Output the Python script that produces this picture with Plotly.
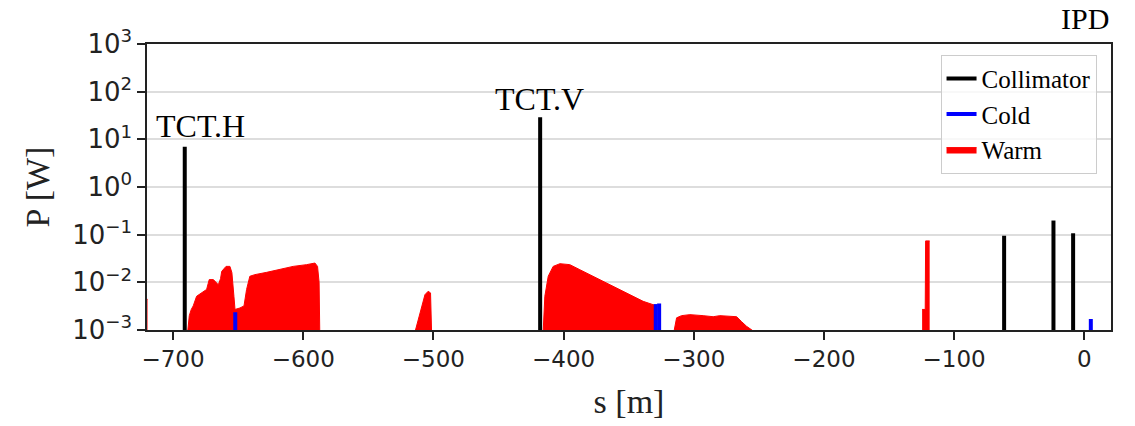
import numpy as np
import plotly.graph_objects as go

# ---------------- data ----------------
coll_s = [-691.0, -418.0, -61.6, -23.7, -8.6]
coll_p = [7.0, 29.0, 0.095, 0.198, 0.107]

cold_s = [-652.2, -329.2, -326.6, 5.0]
cold_p = [0.00236, 0.0035, 0.0036, 0.0017]

warm_s = [
    -722.0, -719.6, None,
    -688.8, -687.5, -686.0, -684.5, -681.9, -678.0, -674.2, -673.0, -672.2, -669.0,
    -666.5, -665.2, -663.5, -662.6, -659.3, -656.3, -654.8, -654.2, -653.2, -652.4,
    -648.6, -645.5, -644.5, -643.5, -641.0, -637.1, -628.1, -617.9, -607.7, -597.4,
    -591.0, -589.0, -587.8, -587.3, None,
    -514.2, -511.7, -509.0, -506.5, -504.0, -502.2, -501.4, None,
    -415.7, -414.4, -411.8, -408.0, -402.8, -395.2, -387.5, -377.3, -364.4, -351.6,
    -338.9, -331.2, -330.5, None,
    -315.3, -313.2, -309.4, -303.0, -292.8, -285.1, -280.0, -267.1, -263.3, -259.5,
    -253.0, None,
    -124.6, -122.2, -121.9, -118.8,
]
warm_p = [
    0.0044, 0.0044, None,
    0.0009, 0.002, 0.0027, 0.0032, 0.0051, 0.006, 0.0071, 0.0095, 0.0114, 0.0114,
    0.0095, 0.0089, 0.012, 0.017, 0.0216, 0.0216, 0.016, 0.0114, 0.005, 0.0027,
    0.0029, 0.0032, 0.0045, 0.0071, 0.0134, 0.0145, 0.0162, 0.019, 0.0216, 0.0235,
    0.0254, 0.0216, 0.01, 0.0009, None,
    0.0009, 0.0017, 0.0032, 0.0055, 0.0065, 0.006, 0.0009, None,
    0.0009, 0.0051, 0.0134, 0.0216, 0.0246, 0.0235, 0.0184, 0.0134, 0.009, 0.006,
    0.004, 0.0034, 0.0034, None,
    0.0009, 0.0018, 0.002, 0.0021, 0.002, 0.0019, 0.002, 0.0019, 0.0015, 0.0012,
    0.0009, None,
    0.0027, 0.0027, 0.074, 0.074,
]

x_ticks = [-700, -600, -500, -400, -300, -200, -100, 0]
x_range = [-720, 20.5]
y_exponents = [-3, -2, -1, 0, 1, 2, 3]

# ---------------- helpers ----------------
Y_BOTTOM = 10.0 ** min(y_exponents)


def stems(s_vals, p_vals):
    xs, ys = [], []
    for s, p in zip(s_vals, p_vals):
        xs += [s, s, None]
        ys += [Y_BOTTOM, p, None]
    return xs, ys


def segments(xs, ys):
    segs, cx, cy = [], [], []
    for x, y in zip(xs, ys):
        if x is None:
            if cx:
                segs.append((cx, cy))
            cx, cy = [], []
        else:
            cx.append(x)
            cy.append(y)
    if cx:
        segs.append((cx, cy))
    return segs


SERIF = "Liberation Serif"
SANS = "DejaVu Sans"

fig = go.Figure()

# Warm drawn first (underneath), legend order reversed later
for i, (sx, sy) in enumerate(segments(warm_s, warm_p)):
    fig.add_trace(go.Scatter(x=sx, y=sy, mode="lines", name="Warm",
                             legendgroup="warm", showlegend=(i == 0),
                             fill="tozeroy", fillcolor="#ff0000",
                             line=dict(color="#ff0000", width=1)))

bx, by = stems(cold_s, cold_p)
fig.add_trace(go.Scatter(x=bx, y=by, mode="lines", name="Cold",
                         line=dict(color="#0000ff", width=4)))
cx, cy = stems(coll_s, coll_p)
fig.add_trace(go.Scatter(x=cx, y=cy, mode="lines", name="Collimator",
                         line=dict(color="black", width=4)))

# annotations
fig.add_annotation(text="TCT.H", x=-715, y=1.28, xref="x", yref="y",
                   xanchor="left", yanchor="middle", showarrow=False,
                   font=dict(family=SERIF, size=32, color="black"))
fig.add_annotation(text="TCT.V", x=-454, y=1.85, xref="x", yref="y",
                   xanchor="left", yanchor="middle", showarrow=False,
                   font=dict(family=SERIF, size=32, color="black"))
fig.add_annotation(text="IPD", x=1.0, y=1.089, xref="paper", yref="paper",
                   xanchor="right", yanchor="middle", showarrow=False,
                   font=dict(family=SERIF, size=30, color="black"))

axis_common = dict(showline=True, mirror=True, linecolor="#222222", linewidth=1.5,
                   ticks="outside", ticklen=8, tickwidth=1.5, tickcolor="#222222",
                   zeroline=False)

y_tickvals = [10.0 ** e for e in y_exponents]
y_ticktext = ["10<sup>%s</sup>" % (str(e).replace("-", "\u2212")) for e in y_exponents]

fig.update_layout(
    width=1135, height=426,
    margin=dict(l=147, r=24, t=44, b=96),
    paper_bgcolor="white", plot_bgcolor="white",
    showlegend=True,
    legend=dict(x=0.985, y=0.962, xanchor="right", yanchor="top",
                traceorder="reversed",
                bgcolor="rgba(255,255,255,0.8)", bordercolor="#cccccc", borderwidth=1,
                font=dict(family=SERIF, size=25, color="black")),
    xaxis=dict(range=x_range, tickvals=x_ticks, showgrid=False,
               tickfont=dict(family=SANS, size=23, color="#222222"),
               title=dict(text="s [m]", font=dict(family=SERIF, size=34, color="#222222"),
                          standoff=18),
               **axis_common),
    yaxis=dict(type="log", range=[min(y_exponents), max(y_exponents)],
               tickvals=y_tickvals, ticktext=y_ticktext,
               tickfont=dict(family=SANS, size=26, color="#222222"),
               showgrid=True, gridcolor="#dddddd", gridwidth=1.5,
               title=dict(text="P [W]", font=dict(family=SERIF, size=34, color="#222222"),
                          standoff=12),
               **axis_common),
)

fig.write_html("out.html")
